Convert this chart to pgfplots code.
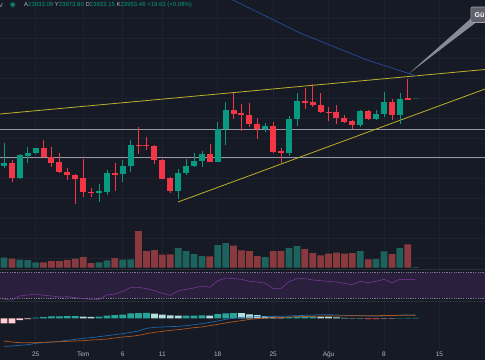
\documentclass[border=0pt]{standalone}
\usepackage{pgfplots}
\pgfplotsset{compat=1.18}
\usepackage{pgfplotstable}
\usepackage{fontspec}
\setmainfont{Liberation Sans}
\definecolor{bg}{HTML}{161A25}
\definecolor{gridc}{HTML}{1E2230}
\definecolor{cup}{HTML}{089981}
\definecolor{cdn}{HTML}{F23645}
\definecolor{vup}{HTML}{1D625C}
\definecolor{vdn}{HTML}{8A3A3F}
\definecolor{hline}{HTML}{9598A1}
\definecolor{trend}{HTML}{BDB12C}
\definecolor{bluel}{HTML}{2A4A9E}
\definecolor{rsiband}{HTML}{2A1F3D}
\definecolor{rsil}{HTML}{7A3A9A}
\definecolor{hteal}{HTML}{26A69A}
\definecolor{hlight}{HTML}{B2DFDB}
\definecolor{hpink}{HTML}{FFCDD2}
\definecolor{hred}{HTML}{FF5252}
\definecolor{macdc}{HTML}{1F66A8}
\definecolor{sigc}{HTML}{B0561A}
\definecolor{txt}{HTML}{B2B5BE}
\definecolor{sep}{HTML}{2A2E39}
\definecolor{dashc}{HTML}{787B86}
\definecolor{callptr}{HTML}{888B95}
\definecolor{callbox}{HTML}{5F626D}
\definecolor{callborder}{HTML}{A0A3AC}

% candles: d open high low close (pixel heights, y grows downward)
\pgfplotstableread{
d o h l c
-4 166 142.7 168.3 163.3
-2 178.3 154 179.3 155.3
-1 155.7 146.7 162.7 152.7
0 152.7 147.5 153.5 148.3
8 192.3 184.3 201.7 191.2
9 191.7 170 195 172.7
11 174 160 181.7 166
12 166.3 140 171.7 145
18 190.7 169.3 199.3 173
19 172.7 159.3 175 166
20 165.7 152.7 167.3 160.7
21 161 150.7 167.3 154
23 161.7 121.7 161.7 129.3
24 129.3 102.3 145 110
29 129.3 122.7 131.7 126
32 152.7 116 156 118.7
33 118.7 93.3 126.3 101
41 125.3 110 126.7 111.3
43 118.7 110 120 114.3
44 114.3 92.3 116.7 101.7
46 114.7 92.7 124 99
}\greentab
\pgfplotstableread{
d o h l c
-3 163.3 160 181.7 177.7
1 148 140 157.8 157.3
2 156.7 146.7 167.3 162.7
3 162.3 153.3 173.3 172
4 172 168.3 180 175
5 175 174.3 204 178.7
6 178.3 159.3 196.7 192
7 192 188.3 196.7 192.9
10 172.7 162.7 190.7 174.3
13 145 127.3 154 145.9
14 145 136.7 150 145.9
15 145.7 145 164.3 160
16 160.3 159 179.3 178.7
17 178 176.7 192.7 191
22 154 144 161.7 161.7
25 110 93.3 119.3 113.7
26 113 104 130.7 114.7
27 114.7 102.7 126.7 124
28 124 118.3 139.3 129.3
30 126 121.7 153.3 151.7
31 151 148.3 163.3 152.5
34 101 88.3 109.3 102.7
35 102.3 84.3 107.3 105
36 105 93.3 113.3 112
37 111.7 107.3 121 112.7
38 112.3 105 124 118.3
39 118 115 122.7 121.7
40 121.3 120 129.3 125.3
42 111.3 110 120 118.7
45 101.7 99 120 114.7
47 98.3 79 99.3 99.3
}\redtab
\pgfplotstableread{
d o h l c
48 98.8 97.5 99 97.8
}\curtab
\pgfplotstableread{
d v
-4 30
-2 24
-1 23
0 16
8 16
9 22
11 24
12 25
18 59
19 50
20 41
21 35
23 68
24 74
29 32
32 59
33 65
41 50
43 26
44 49
46 59
48 1.5
}\volup
\pgfplotstableread{
d v
-3 27
1 16
2 20
3 20
4 23
5 27
6 32
7 14
10 29
13 110
14 50
15 53
16 39
17 40
22 34
25 66
26 52
27 50
28 35
30 50
31 50
34 56
35 44
36 37
37 42
38 45
39 42
40 44
42 25
45 41
47 70
}\voldn
\pgfplotstableread{
d r
-4 29.0
-3 28.0
-2 34.1
-1 35.6
0 37.1
1 35.1
2 34.1
3 32.5
4 33.0
5 31.5
6 30.0
7 29.0
8 29.0
9 35.6
10 37.1
11 41.1
12 47.2
13 47.2
14 45.2
15 42.2
16 38.1
17 35.1
18 41.6
19 44.2
20 46.2
21 49.2
22 47.2
23 57.3
24 61.4
25 60.4
26 59.4
27 56.3
28 55.3
29 53.3
30 45.7
31 45.7
32 55.8
33 60.4
34 60.4
35 58.4
36 57.3
37 56.3
38 55.3
39 53.3
40 51.3
41 56.3
42 54.3
43 56.3
44 59.4
45 54.3
46 59.4
47 59.4
48 59.4
}\rsitab
\pgfplotstableread{
d m s
-4 -84 -68
-3 -83 -71
-2 -81 -73
-1 -79 -73
0 -75 -73
1 -73 -72
2 -71 -71
3 -69 -70
4 -66 -69
5 -63 -68
6 -60 -67
7 -58 -65
8 -55 -64
9 -52 -62
10 -49 -59
11 -46 -56
12 -42 -54
13 -38 -51
14 -30 -46
15 -27 -42
16 -26 -39
17 -25 -36
18 -24 -34
19 -22 -31
20 -19 -28
21 -16 -26
22 -12 -22
23 -8 -18
24 -3 -14
25 0 -10
26 3 -7
27 4 -3
28 5 -1
29 5 1
30 6 2
31 6 3
32 7 4
33 8 5
34 9 5.5
35 10 6
36 11 6.5
37 11 7
38 10 7
39 9 7.5
40 8.5 7.5
41 8 8
42 7 8
43 6.5 8
44 7.5 8.5
45 8 8.5
46 9.5 9
47 10 9
48 10 9
}\macdtab
\pgfplotstableread{
d h
0 2
1 4
2 6
3 6.2
4 6.4
5 6.5
8 5
9 8
10 10
11 11
12 15
13 16
14 16.5
19 8.2
20 8.4
21 8.6
23 13
24 15
25 16
32 4
33 5
34 5.5
35 6
46 0.8
47 1.2
48 1.4
}\histteal
\pgfplotstableread{
d h
6 5
7 4.5
15 14
16 11
17 9
18 8
22 8
26 15.5
27 12
28 10
29 7
30 5
31 3
36 5.5
37 5
38 3
39 1.5
40 1
41 0.6
}\histlight
\pgfplotstableread{
d h
-4 -15
-3 -15
-2 -5
-1 -2
44 -1.2
45 -0.6
}\histpink
\pgfplotstableread{
d h
42 -2
43 -2.5
}\histred

\pgfplotsset{
  pane/.style={scale only axis, width=485pt, xmin=-4.505, xmax=56.76,
    axis line style={draw=none}, tick style={draw=none},
    xtick={0,6,11,16,23,30,37,44,51}, xticklabels={}, ytick=\empty,
    xmajorgrids, major grid style={gridc, line width=0.6pt},
    anchor=south west},
  wick/.style={draw=none, no markers, forget plot,
    error bars/.cd, y dir=both, y explicit, error mark=none,
    error bar style={draw=#1, solid, line width=0.6pt}},
  body/.style={draw=none, no markers, forget plot,
    error bars/.cd, y dir=both, y explicit, error mark=none,
    error bar style={draw=#1, solid, line width=6pt}},
  vbar/.style={ybar, bar width=6.7pt, bar shift=0pt, fill=#1, draw=none},
}

\begin{document}
\begin{tikzpicture}[x=1pt,y=1pt]
\path[use as bounding box] (0,0) rectangle (485,360);
\clip (0,0) rectangle (485,360);
\fill[bg] (0,0) rectangle (485,360);

% ---------- main pane ----------
\begin{axis}[pane, at={(0pt,91pt)}, height=269pt, ymin=0, ymax=269, y dir=reverse,
  ytick={18.3,38.3,...,258.3}, yticklabels={}, ymajorgrids]
\addplot[hline, line width=0.8pt] coordinates {(-4.505,129.3) (56.76,129.3)};
\addplot[hline, line width=0.8pt] coordinates {(-4.505,157.3) (56.76,157.3)};
\addplot[trend, line width=0.8pt] coordinates {(-4.505,114) (56.76,69.5)};
\addplot[trend, line width=0.8pt] coordinates {(17.98,202) (56.76,89)};
\addplot[bluel, line width=0.7pt] coordinates {(23.67,-5) (24.93,0) (33.39,33) (41.86,60) (47.16,73.5) (48.14,76)};
\addplot[wick=cup] table[x=d, y expr={(\thisrow{h}+\thisrow{l})/2}, y error expr={(\thisrow{l}-\thisrow{h})/2}] {\greentab};
\addplot[wick=cdn] table[x=d, y expr={(\thisrow{h}+\thisrow{l})/2}, y error expr={(\thisrow{l}-\thisrow{h})/2}] {\redtab};
\addplot[wick=cup!45!bg] table[x=d, y expr={(\thisrow{h}+\thisrow{l})/2}, y error expr={(\thisrow{l}-\thisrow{h})/2}] {\curtab};
\addplot[body=cup] table[x=d, y expr={(\thisrow{o}+\thisrow{c})/2}, y error expr={max(abs(\thisrow{o}-\thisrow{c})/2,0.6)}] {\greentab};
\addplot[body=cdn] table[x=d, y expr={(\thisrow{o}+\thisrow{c})/2}, y error expr={max(abs(\thisrow{o}-\thisrow{c})/2,0.6)}] {\redtab};
\addplot[body=cup!45!bg] table[x=d, y expr={(\thisrow{o}+\thisrow{c})/2}, y error expr={max(abs(\thisrow{o}-\thisrow{c})/2,0.6)}] {\curtab};
\end{axis}

% ---------- volume ----------
\begin{axis}[pane, xmajorgrids=false, at={(0pt,92.3pt)}, height=40pt, ymin=0, ymax=120]
\addplot[vbar=vup] table[x=d,y=v] {\volup};
\addplot[vbar=vdn] table[x=d,y=v] {\voldn};
\end{axis}

% ---------- RSI ----------
\begin{axis}[pane, at={(0pt,59pt)}, height=31pt, ymin=26.5, ymax=73.5]
\fill[rsiband] (axis cs:-4.505,30) rectangle (axis cs:56.76,70);
\addplot[dashc, line width=0.5pt, dash pattern=on 1.2pt off 1.2pt] coordinates {(-4.505,70) (56.76,70)};
\addplot[dashc, line width=0.5pt, dash pattern=on 1.2pt off 1.2pt] coordinates {(-4.505,30) (56.76,30)};
\addplot[rsil, line width=0.55pt] table[x=d, y=r] {\rsitab};
\end{axis}

% ---------- MACD ----------
\begin{axis}[pane, at={(0pt,11pt)}, height=47pt, ymin=-92, ymax=49,
  xticklabels={25,Tem,6,11,18,25,Ağu,8,15},
  xticklabel style={font=\fontsize{6.5}{7}\selectfont, text=txt, yshift=1pt}]
\addplot[vbar=hteal] table[x=d,y=h] {\histteal};
\addplot[vbar=hlight] table[x=d,y=h] {\histlight};
\addplot[vbar=hpink] table[x=d,y=h] {\histpink};
\addplot[vbar=hred] table[x=d,y=h] {\histred};
\addplot[macdc, line width=0.7pt] table[x=d,y=m] {\macdtab};
\addplot[sigc, line width=0.7pt] table[x=d,y=s] {\macdtab};
\end{axis}

% pane separators
\draw[sep, line width=0.6pt] (0,90.5) -- (485,90.5);
\draw[sep, line width=0.6pt] (0,58.5) -- (485,58.5);

% header
\node[anchor=east, inner sep=0, font=\fontsize{6}{7}\selectfont, text=txt] at (3.2,355) {V};
\fill[cup!35!bg] (12.7,355.3) circle (3);
\fill[cup] (12.7,355.3) circle (1.7);
\node[anchor=west, inner sep=0, font=\fontsize{6}{7}\selectfont] at (24,355)
 {\textcolor{txt}{A}\textcolor{cup}{23933.09} \textcolor{txt}{Y}\textcolor{cup}{23973.80} \textcolor{txt}{D}\textcolor{cup}{23932.15} \textcolor{txt}{K}\textcolor{cup}{23953.46} \textcolor{cup}{+19.63 (+0.08\%)}};

% callout
\fill[callptr] (470.8,341.5) -- (477,338.3) -- (409,286.5) -- cycle;
\draw[callborder, fill=callbox, rounded corners=2pt, line width=0.6pt] (470.8,337.5) rectangle (500,353);
\node[anchor=west, inner sep=0, font=\bfseries\fontsize{7}{8}\selectfont, text=white] at (474.5,345.3) {Gü};
\end{tikzpicture}
\end{document}
